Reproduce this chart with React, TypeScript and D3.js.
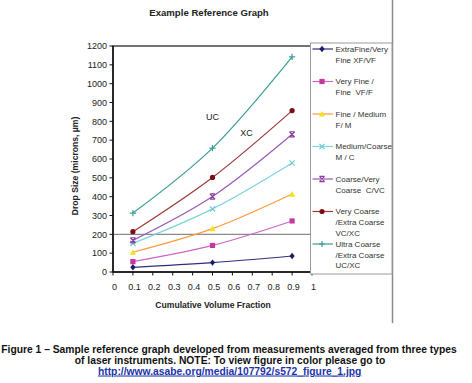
import React from "react";
import * as d3 from "d3";

const categories = [0.1, 0.5, 0.9];
const xfvf = [25, 50, 85];
const vff = [55, 141, 271];
const fm = [105, 230, 414];
const mc = [152, 335, 579];
const cvc = [168, 401, 731];
const vcxc = [214, 502, 857];
const ucxc = [313, 658, 1142];

const yTicks = d3.range(0, 1201, 100);
const xTicks = d3.range(0, 11).map((d) => d / 10);
const xTickLabels = ["0", "0.1", "0.2", "0.3", "0.4", "0.5", "0.6", "0.7", "0.8", "0.9", "1"];

const seriesNames = [
  ["ExtraFine/Very", "Fine XF/VF"],
  ["Very Fine /", "Fine  VF/F"],
  ["Fine / Medium", "F/ M"],
  ["Medium/Coarse", "M / C"],
  ["Coarse/Very", "Coarse  C/VC"],
  ["Very Coarse", "/Extra Coarse", "VC/XC"],
  ["Ultra Coarse", "/Extra Coarse", "UC/XC"],
];
const seriesValues = [xfvf, vff, fm, mc, cvc, vcxc, ucxc];
const lineColors = ["#2E2E7E", "#CC66C4", "#FF9A3C", "#7ED3DA", "#9A5BB5", "#9A3B3B", "#3E9C9A"];
const markerColors = ["#1C1C6A", "#C4399C", "#F2E21A", "#6CCAD6", "#8A3E9E", "#7A0F14", "#3E9C9A"];
const markerTypes = ["diamond", "square", "triangle", "x", "star", "circle", "plus"];

const captionLines = [
  "Figure 1 \u2013 Sample reference graph developed from measurements averaged from three types",
  "of laser instruments. NOTE: To view figure in color please go to",
];
const captionLink = "http://www.asabe.org/media/107792/s572_figure_1.jpg";

const FONT = "Liberation Sans, Arial, Helvetica, sans-serif";

function Marker({ type, x, y, color }: { type: string; x: number; y: number; color: string }) {
  const s = 2.6;
  switch (type) {
    case "diamond":
      return <path d={`M${x},${y - s - 0.6}L${x + s},${y}L${x},${y + s + 0.6}L${x - s},${y}Z`} fill={color} />;
    case "square":
      return <rect x={x - s} y={y - s} width={s * 2} height={s * 2} fill={color} />;
    case "triangle":
      return <path d={`M${x},${y - s - 0.5}L${x + s + 0.5},${y + s}L${x - s - 0.5},${y + s}Z`} fill={color} />;
    case "x":
      return (
        <path d={`M${x - s},${y - s}L${x + s},${y + s}M${x + s},${y - s}L${x - s},${y + s}`} stroke={color} strokeWidth={1.2} fill="none" />
      );
    case "star":
      return (
        <path
          d={`M${x - s},${y - s}L${x + s},${y + s}M${x + s},${y - s}L${x - s},${y + s}M${x - s},${y - s}L${x + s},${y - s}M${x - s},${y + s}L${x + s},${y + s}`}
          stroke={color}
          strokeWidth={1.2}
          fill="none"
        />
      );
    case "circle":
      return <circle cx={x} cy={y} r={s} fill={color} />;
    case "plus":
      return <path d={`M${x - s - 0.5},${y}L${x + s + 0.5},${y}M${x},${y - s - 0.5}L${x},${y + s + 0.5}`} stroke={color} strokeWidth={1.2} fill="none" />;
    default:
      return null;
  }
}

export default function App() {
  const W = 472;
  const H = 383;
  const x = d3.scaleLinear().domain([0, 1]).range([113, 312]);
  const y = d3.scaleLinear().domain([0, 1200]).range([272, 46]);
  const line = d3
    .line<number>()
    .x((_, i) => x(categories[i]))
    .y((d) => y(d))
    .curve(d3.curveCatmullRom.alpha(0.5));

  const legendX = 310.5;
  const legendTop = 43;
  const legendBottom = 274;
  const legendRight = 392;

  return (
    <svg width={W} height={H} style={{ position: "absolute", left: 0, top: 0, background: "#fff" }} fontFamily={FONT}>
      <rect x={0} y={0} width={W} height={H} fill="#fff" />
      {/* title */}
      <text x={209} y={15.5} textAnchor="middle" fontSize={9.6} fontWeight="bold" fill="#222">
        Example Reference Graph
      </text>

      {/* grey vertical rule */}
      <line x1={392.5} y1={0} x2={392.5} y2={323} stroke="#8a8a8a" strokeWidth={1.5} />

      {/* plot frame */}
      <rect x={x(0)} y={y(1200)} width={x(1) - x(0)} height={y(0) - y(1200)} fill="#fff" stroke="#2a2a2a" strokeWidth={1.3} />

      {/* 200 reference line */}
      <line x1={x(0)} x2={legendX} y1={y(200)} y2={y(200)} stroke="#8a8a8a" strokeWidth={1.2} />

      {/* y axis */}
      <line x1={x(0)} x2={x(0)} y1={y(0)} y2={y(1200)} stroke="#111" strokeWidth={1.5} />
      {yTicks.map((t) => (
        <g key={t}>
          <line x1={x(0) - 3.5} x2={x(0)} y1={y(t)} y2={y(t)} stroke="#111" strokeWidth={1} />
          <text x={x(0) - 6} y={y(t) + 3.2} textAnchor="end" fontSize={9} fill="#222">
            {t}
          </text>
        </g>
      ))}
      <text
        transform={`translate(78,166) rotate(-90)`}
        textAnchor="middle"
        fontSize={8.6}
        fontWeight="bold"
        fill="#222"
      >
        Drop Size (microns, µm)
      </text>

      {/* x axis */}
      <line x1={x(0)} x2={x(1)} y1={y(0)} y2={y(0)} stroke="#111" strokeWidth={1.5} />
      {xTicks.map((t, i) => (
        <g key={t}>
          <line x1={x(t)} x2={x(t)} y1={y(0)} y2={y(0) + 3.5} stroke="#111" strokeWidth={1} />
          <text x={x(t) + 1.5} y={290} textAnchor="middle" fontSize={9} fill="#222">
            {xTickLabels[i]}
          </text>
        </g>
      ))}
      <text x={213} y={307.5} textAnchor="middle" fontSize={8.6} fontWeight="bold" fill="#222">
        Cumulative Volume Fraction
      </text>

      {/* series */}
      {seriesValues.map((vals, si) => (
        <g key={si}>
          <path d={line(vals) || ""} fill="none" stroke={lineColors[si]} strokeWidth={1.2} />
          {vals.map((v, i) => (
            <Marker key={i} type={markerTypes[si]} x={x(categories[i])} y={y(v)} color={markerColors[si]} />
          ))}
        </g>
      ))}

      {/* in-plot labels */}
      <text x={212.5} y={119.5} textAnchor="middle" fontSize={9} fill="#222">
        UC
      </text>
      <text x={246.5} y={135.5} textAnchor="middle" fontSize={9} fill="#222">
        XC
      </text>

      {/* legend */}
      <rect x={legendX} y={legendTop} width={legendRight - legendX} height={legendBottom - legendTop} fill="#fff" stroke="#9a9a9a" strokeWidth={1} />
      {seriesNames.map((lines, si) => {
        const ly = 49 + si * 32.5;
        return (
          <g key={si}>
            <line x1={312.5} x2={333} y1={ly} y2={ly} stroke={lineColors[si]} strokeWidth={1.2} />
            <Marker type={markerTypes[si]} x={322} y={ly} color={markerColors[si]} />
            {lines.map((t, li) => (
              <text key={li} x={335.5} y={ly + 2.9 + li * 10.6} fontSize={8} fill="#333" style={{ whiteSpace: "pre" }}>
                {t}
              </text>
            ))}
          </g>
        );
      })}

      {/* caption */}
      <text x={229} y={352.5} textAnchor="middle" fontSize={10.3} fontWeight="bold" fill="#111">
        {captionLines[0]}
      </text>
      <text x={230} y={363.5} textAnchor="middle" fontSize={10.3} fontWeight="bold" fill="#111">
        {captionLines[1]}
      </text>
      <text x={229.7} y={374.5} textAnchor="middle" fontSize={10.3} fontWeight="bold" fill="#2233AA" textDecoration="underline">
        {captionLink}
      </text>
    </svg>
  );
}
